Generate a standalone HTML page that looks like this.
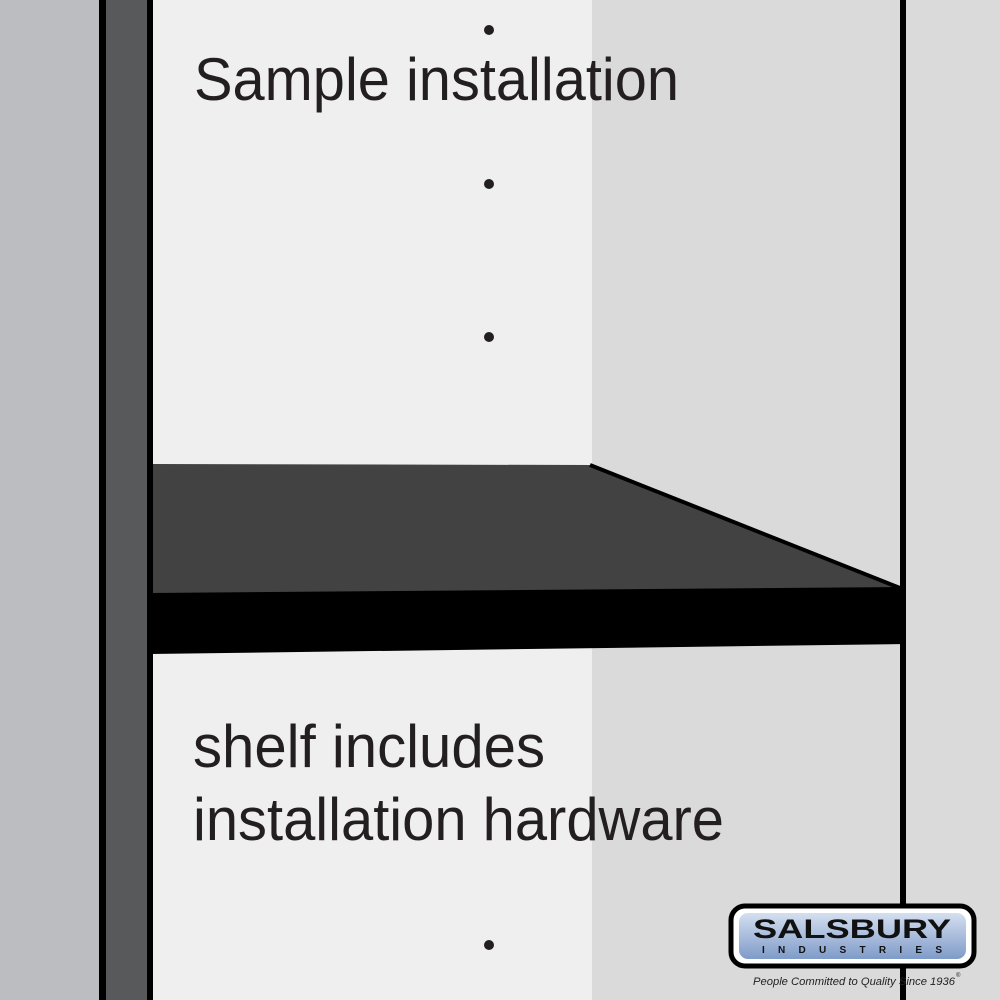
<!DOCTYPE html>
<html><head><meta charset="utf-8"><style>html,body{margin:0;padding:0;background:#dadada}svg{display:block}</style></head>
<body>
<svg width="1000" height="1000" viewBox="0 0 1000 1000" xmlns="http://www.w3.org/2000/svg">
<rect x="0" y="0" width="1000" height="1000" fill="#dadada"/>
<rect x="0" y="0" width="99" height="1000" fill="#bcbdc1"/>
<rect x="99" y="0" width="7" height="1000" fill="#000"/>
<rect x="106" y="0" width="41" height="1000" fill="#58595b"/>
<rect x="147" y="0" width="6" height="1000" fill="#000"/>
<rect x="153" y="0" width="439" height="1000" fill="#efefef"/>
<rect x="900" y="0" width="6" height="1000" fill="#000"/>
<polygon points="153,464 590,465 900,587 900,592 153,594" fill="#424242"/>
<polyline points="590,465 900,588" fill="none" stroke="#000" stroke-width="4"/>
<polygon points="150,593 906,587 906,644 150,654" fill="#000"/>
<g fill="#231f20">
<circle cx="489" cy="30" r="5"/><circle cx="489" cy="184" r="5"/><circle cx="489" cy="337" r="5"/><circle cx="489" cy="945" r="5"/>
</g>
<g font-family="Liberation Sans, Arial, sans-serif" font-size="60" fill="#231f20">
<text x="194" y="100" textLength="485" lengthAdjust="spacingAndGlyphs">Sample installation</text>
<text x="193" y="767" textLength="352" lengthAdjust="spacingAndGlyphs">shelf includes</text>
<text x="193" y="840" textLength="531" lengthAdjust="spacingAndGlyphs">installation hardware</text>
</g>
<defs><linearGradient id="g" x1="0" y1="0" x2="0" y2="1"><stop offset="0" stop-color="#d4dff0"/><stop offset="1" stop-color="#7f9bc8"/></linearGradient></defs>
<rect x="731" y="906" width="243" height="60" rx="14" fill="#fff" stroke="#000" stroke-width="5"/>
<rect x="739" y="913" width="227" height="46" rx="9" fill="url(#g)"/>
<text x="852" y="938" text-anchor="middle" font-family="Liberation Sans, Arial, sans-serif" font-weight="bold" font-size="27" fill="#111" textLength="198" lengthAdjust="spacingAndGlyphs">SALSBURY</text>
<text x="852" y="953" text-anchor="middle" font-family="Liberation Sans, Arial, sans-serif" font-weight="bold" font-size="10" fill="#111" textLength="180" lengthAdjust="spacing">INDUSTRIES</text>
<text x="753" y="985" font-family="Liberation Sans, Arial, sans-serif" font-style="italic" font-size="11" fill="#222" textLength="202" lengthAdjust="spacingAndGlyphs">People Committed to Quality Since 1936</text>
<text x="956" y="977" font-family="Liberation Sans, Arial, sans-serif" font-size="6" fill="#222">®</text>
</svg>
</body></html>
